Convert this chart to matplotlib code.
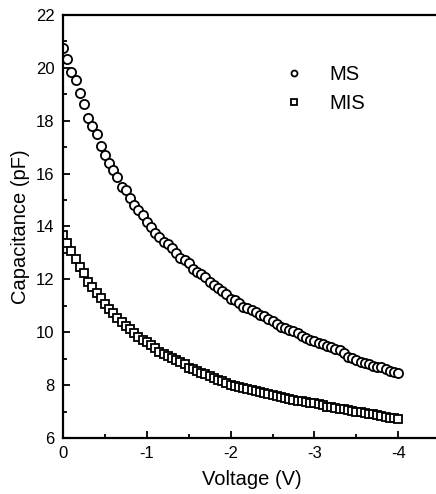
import matplotlib
matplotlib.use("Agg")
import matplotlib.pyplot as plt
from matplotlib.ticker import MultipleLocator, FormatStrFormatter

plt.rcParams['font.family'] = ['Liberation Sans', 'DejaVu Sans']

voltage = [-0.05 * i for i in range(81)]

ms_cap = [20.74, 20.32, 19.86, 19.54, 19.06, 18.63, 18.09, 17.81, 17.49, 17.06,
          16.72, 16.40, 16.14, 15.86, 15.51, 15.38, 15.09, 14.83, 14.62, 14.45,
          14.18, 13.97, 13.77, 13.59, 13.40, 13.33, 13.18, 13.01, 12.80, 12.73,
          12.61, 12.38, 12.29, 12.22, 12.10, 11.91, 11.79, 11.66, 11.57, 11.44,
          11.24, 11.22, 11.12, 10.95, 10.91, 10.84, 10.76, 10.66, 10.60, 10.50,
          10.42, 10.30, 10.20, 10.15, 10.10, 10.04, 9.98, 9.85, 9.78, 9.72,
          9.67, 9.60, 9.54, 9.48, 9.44, 9.38, 9.32, 9.20, 9.06, 9.01,
          8.95, 8.89, 8.85, 8.80, 8.74, 8.70, 8.67, 8.62, 8.54, 8.49,
          8.46]

mis_cap = [13.68, 13.39, 13.09, 12.76, 12.46, 12.23, 11.91, 11.72, 11.50, 11.28,
           11.07, 10.87, 10.72, 10.53, 10.40, 10.24, 10.11, 9.96, 9.83, 9.71,
           9.64, 9.52, 9.39, 9.27, 9.17, 9.10, 9.03, 8.95, 8.87, 8.78,
           8.66, 8.60, 8.53, 8.47, 8.41, 8.35, 8.27, 8.20, 8.14, 8.07,
           8.01, 7.97, 7.93, 7.88, 7.84, 7.80, 7.76, 7.73, 7.69, 7.66,
           7.63, 7.59, 7.55, 7.51, 7.47, 7.44, 7.41, 7.39, 7.36, 7.33,
           7.31, 7.27, 7.23, 7.19, 7.17, 7.14, 7.11, 7.08, 7.05, 7.03,
           7.00, 6.97, 6.95, 6.92, 6.89, 6.86, 6.83, 6.80, 6.77, 6.74,
           6.70]

series_labels = ["MS", "MIS"]

fig = plt.figure(figsize=(4.36, 4.94), dpi=100)
ax = fig.add_axes([0.1445, 0.1134, 0.865, 0.8562])

ax.plot(voltage, ms_cap, linestyle='none', marker='o', markersize=6.6,
        markerfacecolor='white', markeredgecolor='black', markeredgewidth=1.3,
        label=series_labels[0])
ax.plot(voltage, mis_cap, linestyle='none', marker='s', markersize=5.8,
        markerfacecolor='white', markeredgecolor='black', markeredgewidth=1.3,
        label=series_labels[1])

ax.set_xlim(0, -4.5)
ax.set_ylim(6, 22)
ax.xaxis.set_major_locator(MultipleLocator(1))
ax.xaxis.set_minor_locator(MultipleLocator(0.5))
ax.yaxis.set_major_locator(MultipleLocator(2))
ax.yaxis.set_minor_locator(MultipleLocator(1))
ax.xaxis.set_major_formatter(FormatStrFormatter('%d'))

ax.tick_params(which='both', direction='in', width=1.3, labelsize=12,
               top=False, right=False)
ax.tick_params(which='major', length=5, pad=6)
ax.tick_params(which='minor', length=3)
for sp in ax.spines.values():
    sp.set_linewidth(1.6)
ax.spines['right'].set_visible(False)

ax.set_xlabel('Voltage (V)', fontsize=14.5, labelpad=6)
ax.set_ylabel('Capacitance (pF)', fontsize=14.5, labelpad=4)

leg = ax.legend(loc='upper left', bbox_to_anchor=(0.525, 0.925), frameon=False,
                fontsize=14.5, markerscale=0.65, handletextpad=1.0,
                labelspacing=0.5, handlelength=1.5)

fig.savefig('out.png', dpi=100)
